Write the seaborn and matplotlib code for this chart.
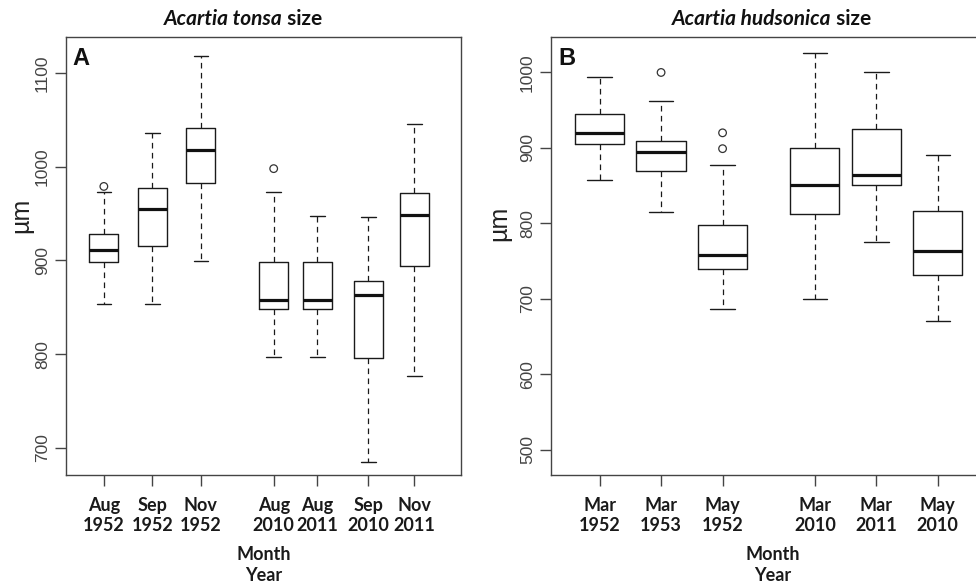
import numpy as np
import pandas as pd
import matplotlib
matplotlib.use("Agg")
import matplotlib.pyplot as plt
import seaborn as sns

# Panel A - Acartia tonsa
tonsa_labels = ["Aug\n1952", "Sep\n1952", "Nov\n1952", "Aug\n2010", "Aug\n2011", "Sep\n2010", "Nov\n2011"]
tonsa_pos = [1, 2, 3, 4.5, 5.4, 6.45, 7.4]
tonsa_low = [853, 853, 899, 797, 797, 685, 777]
tonsa_q1 = [898, 915, 983, 848, 848, 796, 894]
tonsa_med = [911, 955, 1018, 858, 858, 863, 949]
tonsa_q3 = [928, 977, 1041, 898, 898, 878, 972]
tonsa_high = [973, 1036, 1118, 973, 947, 946, 1046]
tonsa_out = [[979], [], [], [998], [], [], []]

# Panel B - Acartia hudsonica
huds_labels = ["Mar\n1952", "Mar\n1953", "May\n1952", "Mar\n2010", "Mar\n2011", "May\n2010"]
huds_pos = [1, 2, 3, 4.5, 5.5, 6.5]
huds_low = [857, 815, 687, 700, 775, 670]
huds_q1 = [905, 869, 740, 812, 851, 732]
huds_med = [920, 894, 758, 851, 864, 763]
huds_q3 = [945, 909, 798, 900, 925, 817]
huds_high = [994, 962, 877, 1026, 1000, 891]
huds_out = [[], [1000], [920, 899], [], [], []]


def long_table(pos, low, q1, med, q3, high):
    rows = []
    for p, a, b, c, d, e in zip(pos, low, q1, med, q3, high):
        for v in (a, b, c, d, e):
            rows.append({"pos": p, "value": v})
    return pd.DataFrame(rows)


def outlier_table(pos, out):
    rows = [{"pos": p, "value": v} for p, vals in zip(pos, out) for v in vals]
    return pd.DataFrame(rows)


sns.set_theme(style="ticks")
plt.rcParams["font.family"] = ["Liberation Sans", "DejaVu Sans"]
plt.rcParams["axes.edgecolor"] = "#444444"
plt.rcParams["axes.linewidth"] = 1.0

W, H = 976, 585
fig = plt.figure(figsize=(9.76, 5.85), dpi=100)
ax_a = fig.add_axes([66 / W, 1 - 475 / H, 395 / W, 438 / H])
ax_b = fig.add_axes([551 / W, 1 - 475 / H, 444 / W, 438 / H])

line_col = "#1a1a1a"
box_kw = dict(
    orient="x", native_scale=True, whis=(0, 100), fill=False, color=line_col,
    showfliers=False, linewidth=1.0,
    medianprops=dict(linewidth=2.3, color="#111111"),
    whiskerprops=dict(linestyle=(0, (4.5, 3.5)), linewidth=0.9),
)

panels = [
    (ax_a, tonsa_pos, tonsa_low, tonsa_q1, tonsa_med, tonsa_q3, tonsa_high, tonsa_out,
     tonsa_labels, 0.6 / 0.9, (0.22, 8.36), (671, 1138.5), [700, 800, 900, 1000, 1100], "A"),
    (ax_b, huds_pos, huds_low, huds_q1, huds_med, huds_q3, huds_high, huds_out,
     huds_labels, 0.8, (0.21, 7.43), (466.5, 1047), [500, 600, 700, 800, 900, 1000], "B"),
]

for ax, pos, low, q1, med, q3, high, out, labels, wd, xl, yl, yt, letter in panels:
    df = long_table(pos, low, q1, med, q3, high)
    sns.boxplot(data=df, x="pos", y="value", ax=ax, width=wd, **box_kw)
    od = outlier_table(pos, out)
    sns.scatterplot(data=od, x="pos", y="value", ax=ax, marker="o", s=30,
                    facecolor="none", edgecolor="#333333", linewidth=0.9, zorder=4)
    ax.set_xlim(*xl)
    ax.set_ylim(*yl)
    ax.set_xticks(pos)
    ax.set_xticklabels(labels, fontfamily="Lato", fontweight="bold", fontsize=13,
                       color="#1a1a1a", linespacing=1.25)
    ax.set_yticks(yt)
    ax.set_yticklabels([str(v) for v in yt], rotation=90, va="center",
                       fontfamily="Liberation Sans", fontsize=12.5, color="#444444")
    ax.tick_params(axis="x", length=8, width=1, color="#444444", pad=7.5)
    ax.tick_params(axis="y", length=8, width=1, color="#444444", pad=3.5)
    ax.set_xlabel("")
    ax.set_ylabel("")
    ax.text(0.017, 0.978, letter, transform=ax.transAxes, ha="left", va="top",
            fontsize=17, fontweight="bold", color="#111111")
    ax.text(0.5, -0.163, "Month\nYear", transform=ax.transAxes, ha="center", va="top",
            fontfamily="Lato", fontweight="bold", fontsize=13, linespacing=1.25,
            color="#1a1a1a")

# right panel is cut off by the figure edge
ax_b.spines["right"].set_visible(False)

fig.text(21 / W, 1 - 215 / H, "µm", rotation=90, ha="center", va="center", fontsize=18,
         fontfamily="Liberation Sans", color="#222222")
fig.text(499 / W, 1 - 223 / H, "µm", rotation=90, ha="center", va="center", fontsize=18,
         fontfamily="Liberation Sans", color="#222222")

# titles with italic species names
renderer = fig.canvas.get_renderer()


def mixed_title(xc, yc, species, rest):
    t1 = fig.text(0, yc, species, fontfamily="Lato", fontstyle="italic", fontweight="bold",
                  fontsize=15, va="center", ha="left", color="#111111")
    t2 = fig.text(0, yc, rest, fontfamily="Lato", fontweight="bold",
                  fontsize=15, va="center", ha="left", color="#111111")
    w1 = t1.get_window_extent(renderer).width
    w2 = t2.get_window_extent(renderer).width
    x0 = xc - (w1 + w2) / 2
    t1.set_x(x0 / W)
    t2.set_x((x0 + w1) / W)


mixed_title(243, 1 - 19 / H, "Acartia tonsa", " size")
mixed_title(771.5, 1 - 19 / H, "Acartia hudsonica", " size")

fig.savefig("out.png", dpi=100)
